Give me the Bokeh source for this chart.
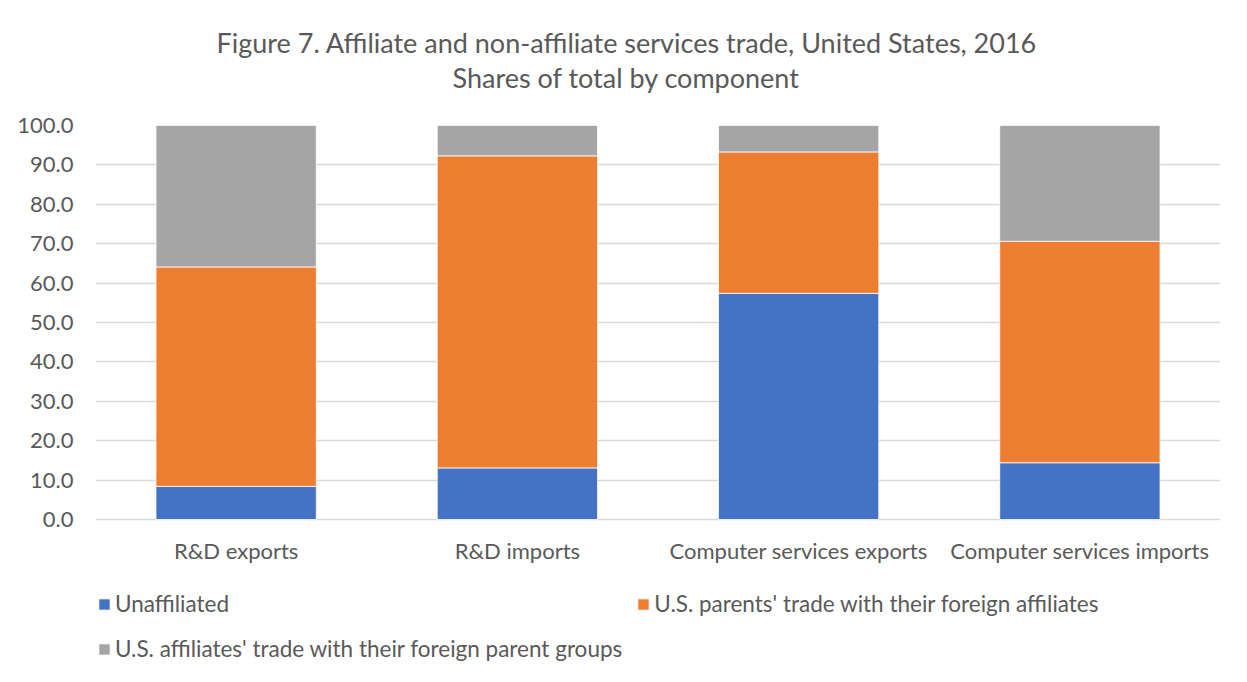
from bokeh.plotting import figure
from bokeh.models import FactorRange, Range1d, FixedTicker, NumeralTickFormatter, Legend, LegendItem, Title
from bokeh.embed import file_html
from bokeh.resources import INLINE

categories = ["R&D exports", "R&D imports", "Computer services exports", "Computer services imports"]
unaffiliated = [8.4, 13.1, 57.4, 14.4]
parents = [55.7, 79.2, 35.9, 56.2]
affiliates = [35.9, 7.7, 6.7, 29.4]
series_names = ["Unaffiliated",
                "U.S. parents' trade with their foreign affiliates",
                "U.S. affiliates' trade with their foreign parent groups"]
y_ticks = [0, 10, 20, 30, 40, 50, 60, 70, 80, 90, 100]

FONT = "Lato"
TXT = "#595959"

PLOT_H = 394          # px from 0 to 100
EXTRA_H = 147         # px of room under the zero line for category labels and legend
Y_MIN = -100.0 * EXTRA_H / PLOT_H
LABEL_Y = -100.0 * 31 / PLOT_H

data = {"cat": categories, "u": unaffiliated, "p": parents, "a": affiliates}

p = figure(x_range=FactorRange(factors=categories, range_padding=0),
           y_range=Range1d(Y_MIN, 100), frame_width=1125, frame_height=PLOT_H + EXTRA_H,
           output_backend="svg", toolbar_location=None,
           min_border_left=95, min_border_right=11, min_border_top=125, min_border_bottom=0)

r = p.vbar_stack(["u", "p", "a"], x="cat", width=0.57, source=data,
                 color=["#4472C4", "#ED7D31", "#A5A5A5"],
                 line_color="white", line_width=0.8)

# category labels under the zero line
p.text(x=categories, y=[LABEL_Y] * len(categories), text=categories,
       text_align="center", text_baseline="middle",
       text_font={"value": FONT}, text_font_size="22px", text_color=TXT)

p.outline_line_color = None
p.xgrid.grid_line_color = None
p.ygrid.grid_line_color = "#d9d9d9"
p.ygrid.grid_line_width = 1.3
p.xaxis.visible = False
p.yaxis.ticker = FixedTicker(ticks=y_ticks)
p.yaxis.formatter = NumeralTickFormatter(format="0.0")
ax = p.yaxis
ax.axis_line_color = None
ax.major_tick_line_color = None
ax.minor_tick_line_color = None
ax.major_tick_out = 0
ax.major_tick_in = 0
ax.major_label_text_font = FONT
ax.major_label_text_font_size = "22px"
ax.major_label_text_color = TXT
ax.major_label_standoff = 22

legend = Legend(items=[LegendItem(label=series_names[i], renderers=[r[i]]) for i in range(3)],
                ncols=2, orientation="horizontal", location=(2, 2),
                label_text_font=FONT, label_text_font_size="22.5px", label_text_color=TXT,
                glyph_width=14, glyph_height=14, label_standoff=4,
                spacing=14, label_height=31, label_width=502,
                border_line_color=None, background_fill_alpha=0,
                padding=0, margin=0)
p.add_layout(legend, "center")

spacer = Title(text=" ", align="left", vertical_align="middle",
               text_font=FONT, text_font_size="24px", standoff=0)
sub = Title(text="Shares of total by component", align="left", vertical_align="middle",
            text_font=FONT, text_font_size="27px", text_font_style="normal",
            text_color=TXT, standoff=0, offset=357)
main = Title(text="Figure 7. Affiliate and non-affiliate services trade, United States, 2016",
             align="left", vertical_align="middle", text_font=FONT, text_font_size="27px",
             text_font_style="normal", text_color=TXT, standoff=0, offset=121)
p.add_layout(spacer, "above")
p.add_layout(sub, "above")
p.add_layout(main, "above")

open("out.html", "w").write(file_html(p, INLINE))
